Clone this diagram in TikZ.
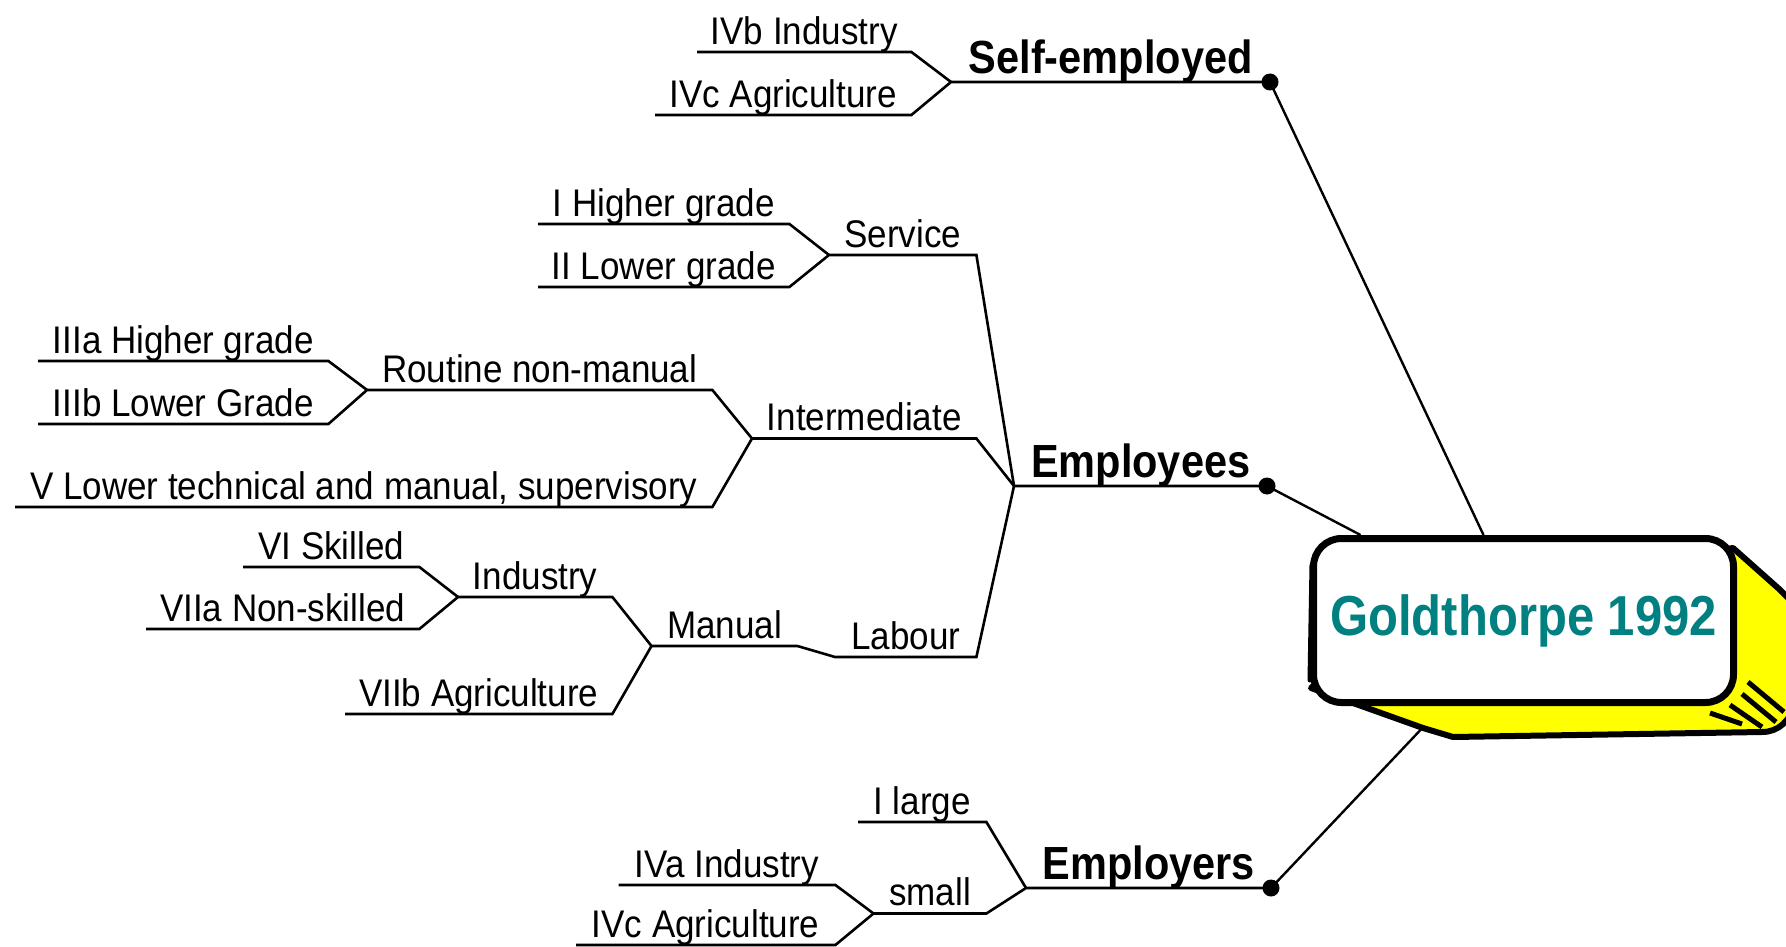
\documentclass[tikz,border=0pt]{standalone}
\usepackage{fontspec}
\setmainfont{Liberation Sans}
\definecolor{goldteal}{RGB}{0,128,128}
\definecolor{boxyellow}{RGB}{255,255,0}
\pgfdeclarelayer{bg}
\pgfdeclarelayer{mid}
\pgfsetlayers{bg,mid,main}
\newcommand{\tallA}[1]{\scalebox{1}[1.1]{#1}}
\newcommand{\tallB}[1]{\scalebox{1}[1.12]{#1}}
\begin{document}
\begin{tikzpicture}[x=1pt,y=-1pt,
  con/.style={line width=2.6pt, line join=miter, line cap=butt},
  link/.style={line width=2.4pt},
  leaf/.style={anchor=south west, inner sep=0pt, text depth=7.5pt, align=center,
    font=\fontsize{35}{40}\selectfont},
  head/.style={anchor=south west, inner sep=0pt, text depth=8pt, align=center,
    font=\fontsize{41.5}{46}\selectfont\bfseries},
  bigdot/.style={circle, fill=black, inner sep=0pt, minimum size=17pt},
  titlebox/.style={draw=black, line width=7pt, rounded corners=28pt, fill=white,
    minimum width=420pt, minimum height=164pt, inner sep=0pt},
]
\useasboundingbox (0,0) rectangle (1786,947);

% ---------- central box ----------
\node[titlebox] (gold) at (1523.5,620.5)
  {\scalebox{1}[1.15]{\fontsize{49}{54}\selectfont\bfseries\color{goldteal}Goldthorpe 1992}};

\begin{pgfonlayer}{mid}
  \fill[boxyellow, draw=black, line width=6pt, line join=round]
    (1400,600) -- (1311,688) -- (1423,728) -- (1453,737) -- (1762,732)
    to[out=0,in=-110] (1795,705) -- (1795,605) -- (1778,588) -- (1733,548) -- cycle;
  \foreach \a/\b/\c/\d in {1748/682/1784/712, 1742/694/1776/722, 1730/705/1762/727, 1710/713/1742/724}
    \draw[line width=5pt] (\a,\b) -- (\c,\d);
  \draw[line width=5pt, line cap=round] (1312,565) -- (1310,680);
\end{pgfonlayer}

% ---------- Self-employed ----------
\node[leaf, minimum width=214pt] (ivb) at (697,52) {\tallA{IVb Industry}};
\node[leaf, minimum width=256pt] (ivc) at (655,115) {\tallA{IVc Agriculture}};
\node[head, minimum width=319pt] (self) at (951,82) {\tallB{Self-employed}};
\node[bigdot] (dself) at (1270,82) {};

% ---------- Employees ----------
\node[leaf, minimum width=251pt] (ihg) at (538,224) {\tallA{I Higher grade}};
\node[leaf, minimum width=251pt] (iilg) at (538,287) {\tallA{II Lower grade}};
\node[leaf, minimum width=147pt] (serv) at (829,255) {\tallA{Service}};
\node[leaf, minimum width=290pt] (iiia) at (38,361) {\tallA{IIIa Higher grade}};
\node[leaf, minimum width=290pt] (iiib) at (38,424) {\tallA{IIIb Lower Grade}};
\node[leaf, minimum width=345pt] (rnm) at (367,390) {\tallA{Routine non-manual}};
\node[leaf, minimum width=697pt] (vlow) at (15,507) {\tallA{V Lower technical and manual, supervisory}};
\node[leaf, minimum width=224pt] (inter) at (752,438.5) {\tallA{Intermediate}};
\node[leaf, minimum width=176pt] (vi) at (243,567) {\tallA{VI Skilled}};
\node[leaf, minimum width=273pt] (viia) at (146,629) {\tallA{VIIa Non-skilled}};
\node[leaf, minimum width=154pt] (ind) at (458,597) {\tallA{Industry}};
\node[leaf, minimum width=267pt] (viib) at (345,714) {\tallA{VIIb Agriculture}};
\node[leaf, minimum width=145.5pt] (manual) at (651.5,646) {\tallA{Manual}};
\node[leaf, minimum width=141pt] (labour) at (835,657) {\tallA{Labour}};
\node[head, minimum width=253pt] (empl) at (1014,486) {\tallB{Employees}};
\node[bigdot] (dempl) at (1267,486) {};

% ---------- Employers ----------
\node[leaf, minimum width=128pt] (ilarge) at (858,822) {\tallA{I large}};
\node[leaf, minimum width=216.5pt] (iva) at (618.5,885) {\tallA{IVa Industry}};
\node[leaf, minimum width=259pt] (ivc2) at (576,945) {\tallA{IVc Agriculture}};
\node[leaf, minimum width=112.5pt] (small) at (873.5,913.5) {\tallA{small}};
\node[head, minimum width=245pt] (emplr) at (1026,888) {\tallB{Employers}};
\node[bigdot] (demplr) at (1271,888) {};

% ---------- connectors ----------
\draw[con] (ivb.south west) -- (ivb.south east) -- (self.south west);
\draw[con] (ivc.south west) -- (ivc.south east) -- (self.south west) -- (dself.center);

\draw[con] (ihg.south west) -- (ihg.south east) -- (serv.south west);
\draw[con] (iilg.south west) -- (iilg.south east) -- (serv.south west) -- (serv.south east) -- (empl.south west);
\draw[con] (iiia.south west) -- (iiia.south east) -- (rnm.south west);
\draw[con] (iiib.south west) -- (iiib.south east) -- (rnm.south west) -- (rnm.south east) -- (inter.south west);
\draw[con] (vlow.south west) -- (vlow.south east) -- (inter.south west) -- (inter.south east) -- (empl.south west);
\draw[con] (vi.south west) -- (vi.south east) -- (ind.south west);
\draw[con] (viia.south west) -- (viia.south east) -- (ind.south west) -- (ind.south east) -- (manual.south west);
\draw[con] (viib.south west) -- (viib.south east) -- (manual.south west) -- (manual.south east)
  -- (labour.south west) -- (labour.south east) -- (empl.south west) -- (dempl.center);

\draw[con] (ilarge.south west) -- (ilarge.south east) -- (emplr.south west);
\draw[con] (iva.south west) -- (iva.south east) -- (small.south west);
\draw[con] (ivc2.south west) -- (ivc2.south east) -- (small.south west) -- (small.south east)
  -- (emplr.south west) -- (demplr.center);

\begin{pgfonlayer}{bg}
  \draw[link] (dself.center) -- (gold);
  \draw[link] (dempl.center) -- (gold);
  \draw[link] (demplr.center) -- (gold);
\end{pgfonlayer}
\end{tikzpicture}
\end{document}
